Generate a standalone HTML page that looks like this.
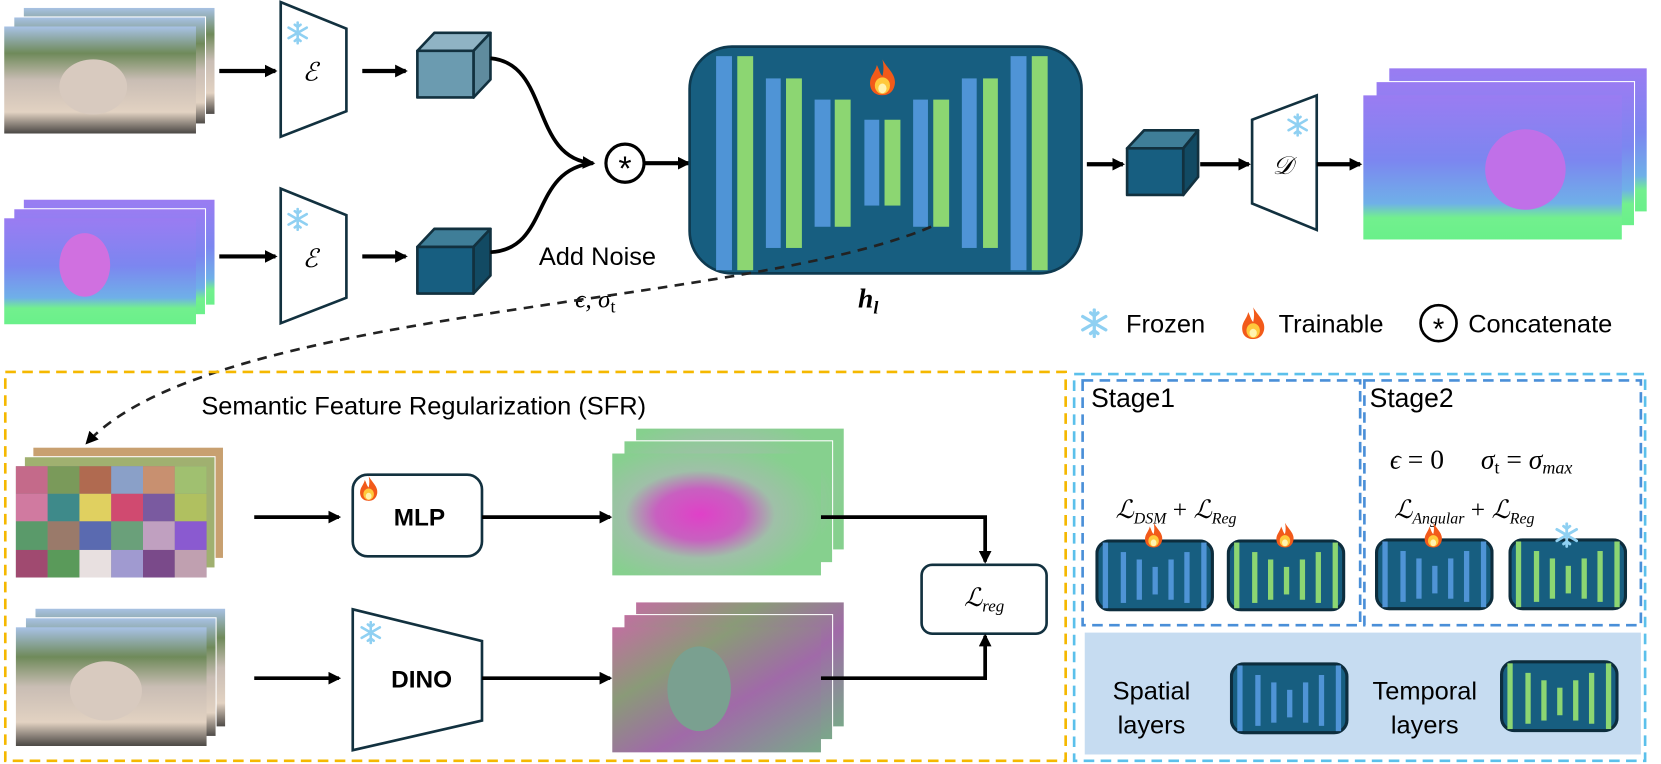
<!DOCTYPE html>
<html><head><meta charset="utf-8"><style>
html,body{margin:0;padding:0;background:#fff;}
svg{display:block}
text{font-family:"Liberation Sans",sans-serif;}
.m{font-family:"Liberation Serif","DejaVu Serif",serif;font-style:italic;}
</style></head><body>
<svg width="1661" height="764" viewBox="0 0 1568 721" preserveAspectRatio="none" xmlns="http://www.w3.org/2000/svg">
<defs>
<marker id="ar" markerWidth="12" markerHeight="12" refX="10" refY="6" orient="auto" markerUnits="userSpaceOnUse"><path d="M0,0 L12,6 L0,12 Z" fill="#000"/></marker>
<linearGradient id="photo" x1="0" y1="0" x2="0" y2="1"><stop offset="0" stop-color="#a8c2e6"/><stop offset="0.25" stop-color="#6f8a5a"/><stop offset="0.5" stop-color="#c9bdb4"/><stop offset="0.8" stop-color="#e2d2c2"/><stop offset="1" stop-color="#4a4744"/></linearGradient>
<linearGradient id="norm" x1="0" y1="0" x2="0" y2="1"><stop offset="0" stop-color="#9a7cf2"/><stop offset="0.45" stop-color="#7c86f0"/><stop offset="0.75" stop-color="#6fb0e8"/><stop offset="0.85" stop-color="#72f08e"/><stop offset="1" stop-color="#6af08a"/></linearGradient>
<radialGradient id="feat1" cx="0.42" cy="0.5" r="0.6"><stop offset="0" stop-color="#e040c8"/><stop offset="0.35" stop-color="#c860c0"/><stop offset="0.6" stop-color="#9fc0a8"/><stop offset="1" stop-color="#86d08e"/></radialGradient>
<linearGradient id="feat2" x1="0" y1="0" x2="1" y2="1"><stop offset="0" stop-color="#c070a0"/><stop offset="0.3" stop-color="#8a9a78"/><stop offset="0.6" stop-color="#a06aa8"/><stop offset="1" stop-color="#7aa88a"/></linearGradient>
<symbol id="fire" viewBox="0 0 20 26"><path d="M10,0 C14,7 20,11 19,18 C18,24 14,26 10,26 C6,26 1,24 1,17 C1,12 5,9 6,4 C8,8 8,10 10,12 C11,8 11,4 10,0Z" fill="#f25a1a"/><ellipse cx="10" cy="19" rx="5.5" ry="6" fill="#ffc93c"/><ellipse cx="10" cy="21" rx="3" ry="3.5" fill="#fff3b0"/></symbol>
<symbol id="snow" viewBox="-10 -10 20 20"><g stroke="#8fd0f2" stroke-width="2.2" stroke-linecap="round"><line x1="0" y1="-9" x2="0" y2="9"/><line x1="-7.8" y1="-4.5" x2="7.8" y2="4.5"/><line x1="-7.8" y1="4.5" x2="7.8" y2="-4.5"/><path d="M-2.5,-7 L0,-5 L2.5,-7 M-2.5,7 L0,5 L2.5,7" fill="none"/></g></symbol>
<symbol id="mb" viewBox="0 0 112 68"><rect x="1.5" y="1.5" width="109" height="65" rx="12" fill="#175e80" stroke="#0d2d3d" stroke-width="3"/><g fill="#4f94d6"><rect x="7" y="3" width="5" height="62"/><rect x="24" y="12" width="5" height="48"/><rect x="39" y="19" width="5" height="38"/><rect x="54" y="26" width="5" height="26"/><rect x="69" y="19" width="5" height="38"/><rect x="84" y="12" width="5" height="48"/><rect x="100" y="3" width="5" height="62"/></g></symbol>
<symbol id="mg" viewBox="0 0 112 68"><rect x="1.5" y="1.5" width="109" height="65" rx="12" fill="#175e80" stroke="#0d2d3d" stroke-width="3"/><g fill="#8cd672"><rect x="7" y="3" width="5" height="62"/><rect x="24" y="12" width="5" height="48"/><rect x="39" y="19" width="5" height="38"/><rect x="54" y="26" width="5" height="26"/><rect x="69" y="19" width="5" height="38"/><rect x="84" y="12" width="5" height="48"/><rect x="100" y="3" width="5" height="62"/></g></symbol>
</defs>

<rect x="22" y="7" width="181" height="101" fill="url(#photo)" stroke="#fff"/>
<rect x="13" y="16" width="181" height="101" fill="url(#photo)" stroke="#fff"/>
<rect x="4" y="25" width="181" height="101" fill="url(#photo)"/>
<ellipse cx="88" cy="82" rx="32" ry="26" fill="#d8cabf"/>
<rect x="22" y="188" width="181" height="100" fill="url(#norm)" stroke="#fff"/>
<rect x="13" y="197" width="181" height="100" fill="url(#norm)" stroke="#fff"/>
<rect x="4" y="206" width="181" height="100" fill="url(#norm)"/>
<ellipse cx="80" cy="250" rx="24" ry="30" fill="#d070e0"/>

<line x1="207" y1="67" x2="260" y2="67" stroke="#000" stroke-width="4" marker-end="url(#ar)"/>
<line x1="207" y1="242" x2="260" y2="242" stroke="#000" stroke-width="4" marker-end="url(#ar)"/>
<polygon points="265,2 327,27 327,105 265,129" fill="#fff" stroke="#12313f" stroke-width="2.5"/>
<use href="#snow" x="270" y="20" width="22" height="22"/>
<text x="293" y="76" class="m" font-size="24" text-anchor="middle">ℰ</text>
<polygon points="265,178 327,203 327,281 265,305" fill="#fff" stroke="#12313f" stroke-width="2.5"/>
<use href="#snow" x="270" y="196" width="22" height="22"/>
<text x="293" y="252" class="m" font-size="24" text-anchor="middle">ℰ</text>

<line x1="342" y1="67" x2="383" y2="67" stroke="#000" stroke-width="4" marker-end="url(#ar)"/>
<line x1="342" y1="242" x2="383" y2="242" stroke="#000" stroke-width="4" marker-end="url(#ar)"/>
<g stroke="#12313f" stroke-width="2.5" stroke-linejoin="round">
<polygon points="394,48 410,31 463,31 447,48" fill="#8fb3c4"/>
<polygon points="447,48 463,31 463,75 447,92" fill="#5f8b9e"/>
<rect x="394" y="48" width="53" height="44" fill="#6b9bb0"/>
<polygon points="394,233 410,216 463,216 447,233" fill="#3f7e98"/>
<polygon points="447,233 463,216 463,260 447,277" fill="#124a63"/>
<rect x="394" y="233" width="53" height="44" fill="#175e80"/>
<polygon points="1064,140 1080,123 1131,123 1117,140" fill="#3f7e98"/>
<polygon points="1117,140 1131,123 1131,167 1117,184" fill="#124a63"/>
<rect x="1064" y="140" width="53" height="44" fill="#175e80"/>
</g>
<path d="M463,55 C520,60 500,150 560,154" fill="none" stroke="#000" stroke-width="3.5" marker-end="url(#ar)"/>
<path d="M463,238 C520,235 500,160 560,154" fill="none" stroke="#000" stroke-width="3.5"/>
<circle cx="590" cy="154" r="18" fill="#fff" stroke="#000" stroke-width="3"/>
<text x="590" y="170" font-size="32" text-anchor="middle">*</text>
<line x1="609" y1="154" x2="650" y2="154" stroke="#000" stroke-width="4" marker-end="url(#ar)"/>
<text x="564" y="250" font-size="24" text-anchor="middle">Add Noise</text>
<text x="562" y="290" class="m" font-size="24" text-anchor="middle">ϵ, σ<tspan font-style="normal" font-size="17" dy="5">t</tspan></text>

<rect x="651" y="44" width="370" height="214" rx="40" fill="#175e80" stroke="#0e3a50" stroke-width="2.5"/>
<g fill="#4f94d6"><rect x="676" y="53" width="15" height="202"/><rect x="723" y="74" width="14" height="160"/><rect x="769" y="94" width="15" height="120"/><rect x="816" y="113" width="14" height="81"/><rect x="862" y="94" width="14" height="120"/><rect x="908" y="74" width="14" height="160"/><rect x="954" y="53" width="15" height="202"/></g>
<g fill="#8cd672"><rect x="696" y="53" width="15" height="202"/><rect x="742" y="74" width="15" height="160"/><rect x="788" y="94" width="15" height="120"/><rect x="835" y="113" width="15" height="81"/><rect x="881" y="94" width="15" height="120"/><rect x="928" y="74" width="14" height="160"/><rect x="974" y="53" width="15" height="202"/></g>
<use href="#fire" x="820" y="56" width="26" height="34"/>
<path d="M879,214 C700,290 200,290 82,418" fill="none" stroke="#222" stroke-width="2.5" stroke-dasharray="9,7" marker-end="url(#ar)"/>
<text x="810" y="290" class="m" font-size="26" font-weight="bold">h<tspan font-size="17" dy="6">l</tspan></text>

<line x1="1026" y1="155" x2="1060" y2="155" stroke="#000" stroke-width="4" marker-end="url(#ar)"/>
<line x1="1133" y1="155" x2="1179" y2="155" stroke="#000" stroke-width="4" marker-end="url(#ar)"/>
<polygon points="1182,113 1243,90 1243,217 1182,192" fill="#fff" stroke="#12313f" stroke-width="2.5"/>
<use href="#snow" x="1214" y="107" width="22" height="22"/>
<text x="1211" y="164" class="m" font-size="24" text-anchor="middle">𝒟</text>
<line x1="1243" y1="155" x2="1284" y2="155" stroke="#000" stroke-width="4" marker-end="url(#ar)"/>
<rect x="1311" y="64" width="244" height="136" fill="url(#norm)" stroke="#fff"/>
<rect x="1299" y="77" width="244" height="136" fill="url(#norm)" stroke="#fff"/>
<rect x="1287" y="90" width="244" height="136" fill="url(#norm)"/>
<ellipse cx="1440" cy="160" rx="38" ry="38" fill="#c070e8"/>

<use href="#snow" x="1019" y="291" width="28" height="28"/>
<text x="1063" y="314" font-size="24">Frozen</text>
<use href="#fire" x="1171" y="290" width="24" height="30"/>
<text x="1207" y="314" font-size="24">Trainable</text>
<circle cx="1358" cy="305" r="17" fill="#fff" stroke="#000" stroke-width="2.5"/>
<text x="1358" y="320" font-size="28" text-anchor="middle">*</text>
<text x="1386" y="314" font-size="24">Concatenate</text>

<rect x="5" y="351" width="1001" height="367" fill="none" stroke="#f5b800" stroke-width="2.5" stroke-dasharray="10,6"/>
<rect x="1024" y="597" width="525" height="115" fill="#c6dcf1"/>
<rect x="1014" y="353" width="539" height="365" fill="none" stroke="#5bc0eb" stroke-width="2.5" stroke-dasharray="10,6"/>
<rect x="1022" y="359" width="262" height="231" fill="none" stroke="#4a8fd8" stroke-width="2.5" stroke-dasharray="10,6"/>
<rect x="1288" y="359" width="261" height="231" fill="none" stroke="#4a8fd8" stroke-width="2.5" stroke-dasharray="10,6"/>
<text x="1030" y="384" font-size="25">Stage1</text>
<text x="1293" y="384" font-size="25">Stage2</text>
<text x="1312" y="442" class="m" font-size="26">ϵ <tspan font-style="normal">= 0</tspan></text>
<text x="1398" y="442" class="m" font-size="26">σ<tspan font-style="normal" font-size="17" dy="5">t</tspan><tspan dy="-5" font-style="normal"> = </tspan>σ<tspan font-size="17" dy="5">max</tspan></text>
<text x="1053" y="489" class="m" font-size="24">ℒ<tspan font-size="15" dy="5">DSM</tspan><tspan dy="-5" font-style="normal"> + </tspan>ℒ<tspan font-size="15" dy="5">Reg</tspan></text>
<text x="1316" y="489" class="m" font-size="24">ℒ<tspan font-size="15" dy="5">Angular</tspan><tspan dy="-5" font-style="normal"> + </tspan>ℒ<tspan font-size="15" dy="5">Reg</tspan></text>
<use href="#mb" x="1034" y="509" width="112" height="68"/>
<use href="#mg" x="1158" y="509" width="112" height="68"/>
<use href="#mb" x="1298" y="508" width="112" height="68"/>
<use href="#mg" x="1424" y="508" width="112" height="68"/>
<use href="#fire" x="1080" y="493" width="18" height="24"/>
<use href="#fire" x="1204" y="493" width="18" height="24"/>
<use href="#fire" x="1344" y="493" width="18" height="24"/>
<use href="#snow" x="1467" y="493" width="24" height="24"/>
<text x="1087" y="660" font-size="24" text-anchor="middle">Spatial</text>
<text x="1087" y="692" font-size="24" text-anchor="middle">layers</text>
<use href="#mb" x="1161" y="625" width="112" height="68"/>
<text x="1345" y="660" font-size="24" text-anchor="middle">Temporal</text>
<text x="1345" y="692" font-size="24" text-anchor="middle">layers</text>
<use href="#mg" x="1416" y="623" width="112" height="68"/>

<text x="400" y="391" font-size="24" text-anchor="middle">Semantic Feature Regularization (SFR)</text>
<rect x="31" y="422" width="180" height="105" fill="#c8a070" stroke="#fff"/>
<rect x="23" y="431" width="180" height="105" fill="#a0b070" stroke="#fff"/>
<g>
<rect x="15" y="440" width="180" height="105" fill="#888"/>
<rect x="15" y="440" width="30" height="26" fill="#c46a8a"/><rect x="45" y="440" width="30" height="26" fill="#7a9a5a"/><rect x="75" y="440" width="30" height="26" fill="#b06a50"/><rect x="105" y="440" width="30" height="26" fill="#8aa0c8"/><rect x="135" y="440" width="30" height="26" fill="#c89070"/><rect x="165" y="440" width="30" height="26" fill="#a0c070"/>
<rect x="15" y="466" width="30" height="26" fill="#d07aa0"/><rect x="45" y="466" width="30" height="26" fill="#3e8a8a"/><rect x="75" y="466" width="30" height="26" fill="#e0d060"/><rect x="105" y="466" width="30" height="26" fill="#d04a70"/><rect x="135" y="466" width="30" height="26" fill="#7a5aa0"/><rect x="165" y="466" width="30" height="26" fill="#b0c060"/>
<rect x="15" y="492" width="30" height="27" fill="#5a9a6a"/><rect x="45" y="492" width="30" height="27" fill="#9a7a6a"/><rect x="75" y="492" width="30" height="27" fill="#5a6ab0"/><rect x="105" y="492" width="30" height="27" fill="#6aa07a"/><rect x="135" y="492" width="30" height="27" fill="#c0a0c0"/><rect x="165" y="492" width="30" height="27" fill="#8a5ad0"/>
<rect x="15" y="519" width="30" height="26" fill="#a04a70"/><rect x="45" y="519" width="30" height="26" fill="#5a9a5a"/><rect x="75" y="519" width="30" height="26" fill="#e8e0e0"/><rect x="105" y="519" width="30" height="26" fill="#a09ad0"/><rect x="135" y="519" width="30" height="26" fill="#7a4a8a"/><rect x="165" y="519" width="30" height="26" fill="#c0a0b0"/>
</g>
<line x1="240" y1="488" x2="320" y2="488" stroke="#000" stroke-width="3.5" marker-end="url(#ar)"/>
<rect x="333" y="448" width="122" height="77" rx="14" fill="#fff" stroke="#12313f" stroke-width="2.5"/>
<text x="396" y="496" font-size="23" font-weight="bold" text-anchor="middle">MLP</text>
<use href="#fire" x="339" y="449" width="18" height="24"/>
<line x1="455" y1="488" x2="576" y2="488" stroke="#000" stroke-width="3.5" marker-end="url(#ar)"/>
<rect x="600" y="404" width="197" height="115" fill="url(#feat1)" stroke="#fff"/>
<rect x="589" y="416" width="197" height="115" fill="url(#feat1)" stroke="#fff"/>
<rect x="578" y="428" width="197" height="115" fill="url(#feat1)"/>
<polyline points="775,488 930,488 930,530" fill="none" stroke="#000" stroke-width="3.5" marker-end="url(#ar)"/>
<rect x="870" y="533" width="118" height="65" rx="10" fill="#fff" stroke="#12313f" stroke-width="2.5"/>
<text x="929" y="572" class="m" font-size="24" text-anchor="middle">ℒ<tspan font-size="16" dy="5">reg</tspan></text>

<rect x="33" y="574" width="180" height="112" fill="url(#photo)" stroke="#fff"/>
<rect x="24" y="583" width="180" height="112" fill="url(#photo)" stroke="#fff"/>
<rect x="15" y="592" width="180" height="112" fill="url(#photo)"/>
<ellipse cx="100" cy="652" rx="34" ry="28" fill="#d8cabf"/>
<line x1="240" y1="640" x2="320" y2="640" stroke="#000" stroke-width="3.5" marker-end="url(#ar)"/>
<polygon points="333,575 455,605 455,680 333,708" fill="#fff" stroke="#12313f" stroke-width="2.5"/>
<use href="#snow" x="339" y="586" width="22" height="22"/>
<text x="398" y="649" font-size="23" font-weight="bold" text-anchor="middle">DINO</text>
<line x1="455" y1="640" x2="576" y2="640" stroke="#000" stroke-width="3.5" marker-end="url(#ar)"/>
<rect x="600" y="568" width="197" height="118" fill="url(#feat2)" stroke="#fff"/>
<rect x="589" y="580" width="197" height="118" fill="url(#feat2)" stroke="#fff"/>
<rect x="578" y="592" width="197" height="118" fill="url(#feat2)"/>
<ellipse cx="660" cy="650" rx="30" ry="40" fill="#7aa090"/>
<polyline points="775,640 930,640 930,600" fill="none" stroke="#000" stroke-width="3.5" marker-end="url(#ar)"/>
</svg>
</body></html>
